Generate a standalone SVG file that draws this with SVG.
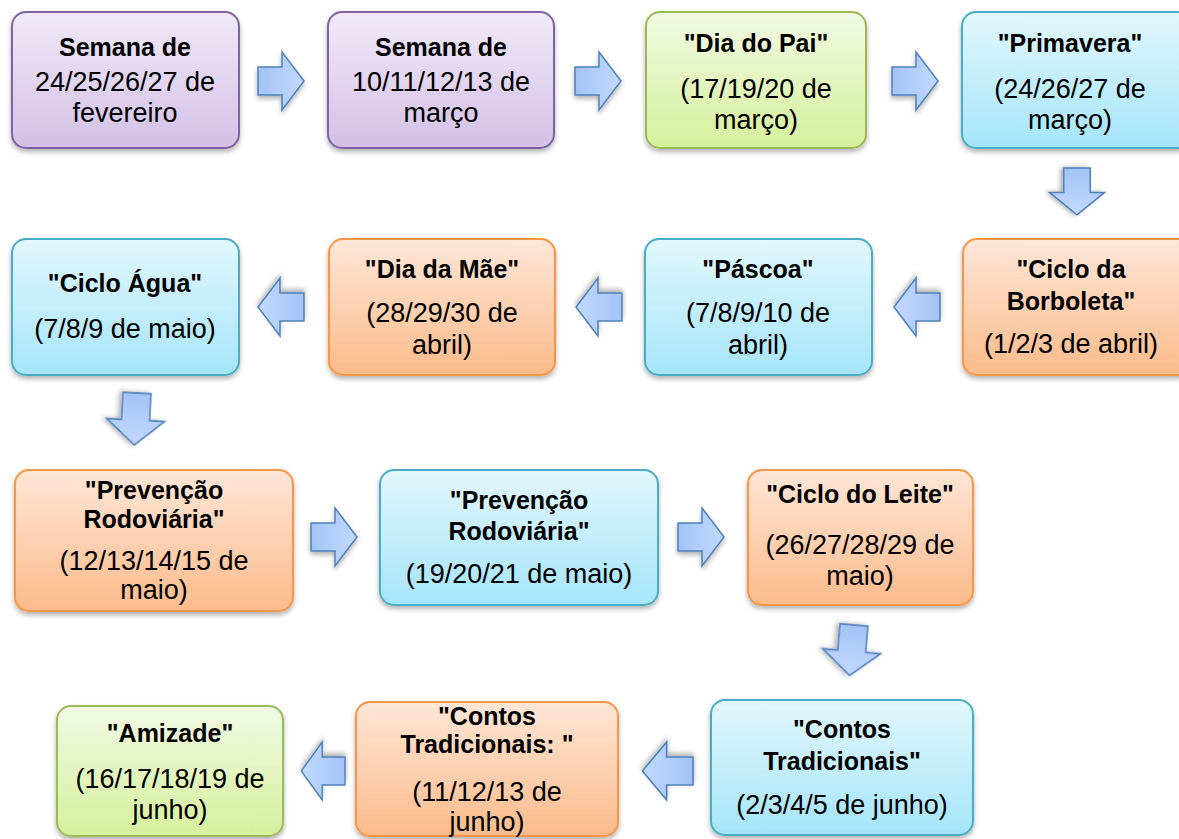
<svg xmlns="http://www.w3.org/2000/svg" width="1179" height="839" viewBox="0 0 1179 839">
<defs>
<linearGradient id="gP" x1="0" y1="0" x2="0" y2="1"><stop offset="0" stop-color="#f0eaf8"/><stop offset="1" stop-color="#d3c0e6"/></linearGradient>
<linearGradient id="gG" x1="0" y1="0" x2="0" y2="1"><stop offset="0" stop-color="#f1f9e3"/><stop offset="1" stop-color="#d6f09c"/></linearGradient>
<linearGradient id="gB" x1="0" y1="0" x2="0" y2="1"><stop offset="0" stop-color="#e2f7fd"/><stop offset="1" stop-color="#a5e5f9"/></linearGradient>
<linearGradient id="gO" x1="0" y1="0" x2="0" y2="1"><stop offset="0" stop-color="#fee6d7"/><stop offset="1" stop-color="#fbbb8b"/></linearGradient>
<linearGradient id="gA" x1="0" y1="0" x2="1" y2="0"><stop offset="0" stop-color="#a3c3f5"/><stop offset="1" stop-color="#c3d9ff"/></linearGradient>
<filter id="sh" x="-10%" y="-10%" width="120%" height="130%"><feDropShadow dx="0" dy="3" stdDeviation="2.5" flood-color="#000" flood-opacity="0.3"/></filter>
<path id="arr" d="M0,-14 H24 V-29 L46,0 L24,29 V14 H0 Z"/>
</defs>
<style>
.n{stroke-width:2;filter:url(#sh)}
.p{fill:url(#gP);stroke:#8064a2}
.g{fill:url(#gG);stroke:#9bbb59}
.b{fill:url(#gB);stroke:#4bacc6}
.o{fill:url(#gO);stroke:#f79646}
text{font-family:"Liberation Sans",Arial,sans-serif;font-size:27px;fill:#000;text-anchor:middle}
.t{font-weight:bold;font-size:25px}
.a use{fill:url(#gA);stroke:#4f81bd;stroke-width:1.5;filter:url(#sh)}
</style>
<g id="connectors" class="a">
<use href="#arr" transform="translate(258,81)"/>
<use href="#arr" transform="translate(575,81)"/>
<use href="#arr" transform="translate(892,81)"/>
<use href="#arr" transform="translate(1077,168) rotate(90) scale(1.02,0.95)"/>
<use href="#arr" transform="translate(940,307) rotate(180)"/>
<use href="#arr" transform="translate(622,307) rotate(180)"/>
<use href="#arr" transform="translate(304,307) rotate(180)"/>
<use href="#arr" transform="translate(137,393) rotate(93) scale(1.13,1)"/>
<use href="#arr" transform="translate(311,537)"/>
<use href="#arr" transform="translate(678,537)"/>
<use href="#arr" transform="translate(854,625) rotate(95) scale(1.1,1)"/>
<use href="#arr" transform="translate(693,771) rotate(180) scale(1.1,1)"/>
<use href="#arr" transform="translate(345,771) rotate(180) scale(0.95,1)"/>
</g>
<g id="n1"><rect class="n p" x="12" y="12" width="227" height="136" rx="14"/><text class="t" x="125" y="56">Semana de</text><text x="125" y="91">24/25/26/27 de</text><text x="125" y="122">fevereiro</text></g>
<g id="n2"><rect class="n p" x="328" y="12" width="226" height="136" rx="14"/><text class="t" x="441" y="56">Semana de</text><text x="441" y="91">10/11/12/13 de</text><text x="441" y="122">março</text></g>
<g id="n3"><rect class="n g" x="646" y="12" width="220" height="136" rx="14"/><text class="t" x="756" y="52">"Dia do Pai"</text><text x="756" y="98">(17/19/20 de</text><text x="756" y="129">março)</text></g>
<g id="n4"><rect class="n b" x="962" y="12" width="230" height="136" rx="14"/><text class="t" x="1070" y="52">"Primavera"</text><text x="1070" y="98">(24/26/27 de</text><text x="1070" y="129">março)</text></g>
<g id="n5"><rect class="n o" x="963" y="239" width="230" height="136" rx="14"/><text class="t" x="1071" y="278">"Ciclo da</text><text class="t" x="1071" y="310">Borboleta"</text><text x="1071" y="353">(1/2/3 de abril)</text></g>
<g id="n6"><rect class="n b" x="645" y="239" width="227" height="136" rx="14"/><text class="t" x="758" y="278">"Páscoa"</text><text x="758" y="322">(7/8/9/10 de</text><text x="758" y="354">abril)</text></g>
<g id="n7"><rect class="n o" x="329" y="239" width="226" height="136" rx="14"/><text class="t" x="442" y="278">"Dia da Mãe"</text><text x="442" y="322">(28/29/30 de</text><text x="442" y="354">abril)</text></g>
<g id="n8"><rect class="n b" x="12" y="239" width="227" height="136" rx="14"/><text class="t" x="125" y="292">"Ciclo Água"</text><text x="125" y="338">(7/8/9 de maio)</text></g>
<g id="n9"><rect class="n o" x="15" y="470" width="278" height="141" rx="14"/><text class="t" x="154" y="499">"Prevenção</text><text class="t" x="154" y="528">Rodoviária"</text><text x="154" y="570">(12/13/14/15 de</text><text x="154" y="599">maio)</text></g>
<g id="n10"><rect class="n b" x="380" y="470" width="278" height="135" rx="14"/><text class="t" x="519" y="509">"Prevenção</text><text class="t" x="519" y="540">Rodoviária"</text><text x="519" y="583">(19/20/21 de maio)</text></g>
<g id="n11"><rect class="n o" x="748" y="470" width="225" height="135" rx="14"/><text class="t" x="860" y="503">"Ciclo do Leite"</text><text x="860" y="554">(26/27/28/29 de</text><text x="860" y="585">maio)</text></g>
<g id="n12"><rect class="n b" x="711" y="700" width="262" height="135" rx="14"/><text class="t" x="842" y="738">"Contos</text><text class="t" x="842" y="770">Tradicionais"</text><text x="842" y="814">(2/3/4/5 de junho)</text></g>
<g id="n13"><rect class="n o" x="356" y="702" width="262" height="134" rx="14"/><text class="t" x="487" y="725">"Contos</text><text class="t" x="487" y="753">Tradicionais: "</text><text x="487" y="801">(11/12/13 de</text><text x="487" y="831">junho)</text></g>
<g id="n14"><rect class="n g" x="57" y="706" width="226" height="130" rx="14"/><text class="t" x="170" y="742">"Amizade"</text><text x="170" y="788">(16/17/18/19 de</text><text x="170" y="819">junho)</text></g>
</svg>
